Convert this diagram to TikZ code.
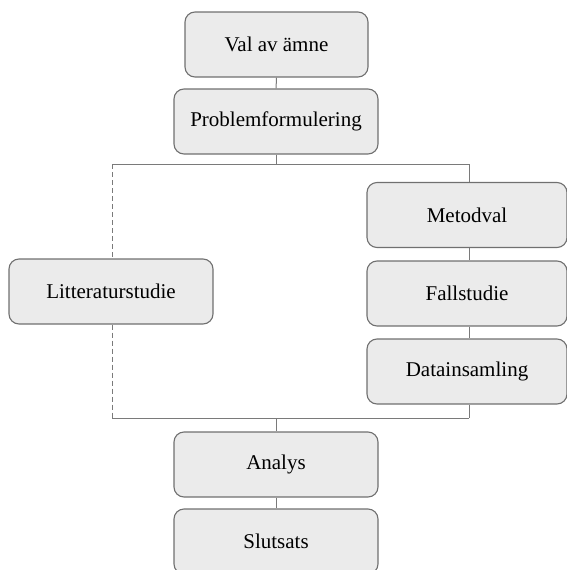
\documentclass[tikz,border=0pt]{standalone}
\usepackage{fontspec}
\setmainfont{Liberation Serif}
\usepackage{tikz}
\usetikzlibrary{positioning}
\definecolor{boxfill}{HTML}{EBEBEB}
\definecolor{boxline}{HTML}{707070}
\definecolor{linkline}{HTML}{7A7A7A}
\tikzset{
  stepbox/.style={draw=boxline, fill=boxfill, line width=1.1pt, rounded corners=10pt,
    minimum height=65pt, inner sep=0pt, font=\fontsize{21}{25}\selectfont},
  link/.style={draw=linkline, line width=1pt},
}

\begin{document}
\begin{tikzpicture}[x=1pt, y=-1pt]
    \useasboundingbox (0, 0) rectangle (567, 570);
    \node[stepbox, minimum width=183pt] (val) at (276.5, 44.5) {Val av ämne};
    \node[stepbox, minimum width=204pt] (prob) at (276, 121.5) {Problemformulering};
    \node[stepbox, minimum width=204pt] (lit) at (111, 291.5) {Litteraturstudie};
    \node[stepbox, minimum width=200pt] (metod) at (467, 215) {Metodval};
    \node[stepbox, minimum width=200pt] (fall) at (467, 293.5) {Fallstudie};
    \node[stepbox, minimum width=200pt] (data) at (467, 371.5) {Datainsamling};
    \node[stepbox, minimum width=204pt] (analys) at (276, 464.5) {Analys};
    \node[stepbox, minimum width=204pt] (slut) at (276, 541.5) {Slutsats};

    \coordinate (split) at (276, 164);
    \coordinate (lt) at (112, 164);
    \coordinate (rt) at (469, 164);
    \coordinate (join) at (276, 418);
    \coordinate (lb) at (112, 418);
    \coordinate (rb) at (469, 418);

    \draw[link] (val) -- (prob);
    \draw[link] (prob) -- (split);
    \draw[link] (lt) -- (rt);
    \draw[link] (rt) -- (rt |- metod.north);
    \draw[link] (rt |- metod.south) -- (rt |- fall.north);
    \draw[link] (rt |- fall.south) -- (rt |- data.north);
    \draw[link] (rt |- data.south) -- (rb);
    \draw[link, dash pattern=on 5pt off 3pt] (lt) -- (lt |- lit.north);
    \draw[link, dash pattern=on 5pt off 3pt] (lt |- lit.south) -- (lb);
    \draw[link] (lb) -- (rb);
    \draw[link] (join) -- (analys);
    \draw[link] (analys) -- (slut);
\end{tikzpicture}
\end{document}
